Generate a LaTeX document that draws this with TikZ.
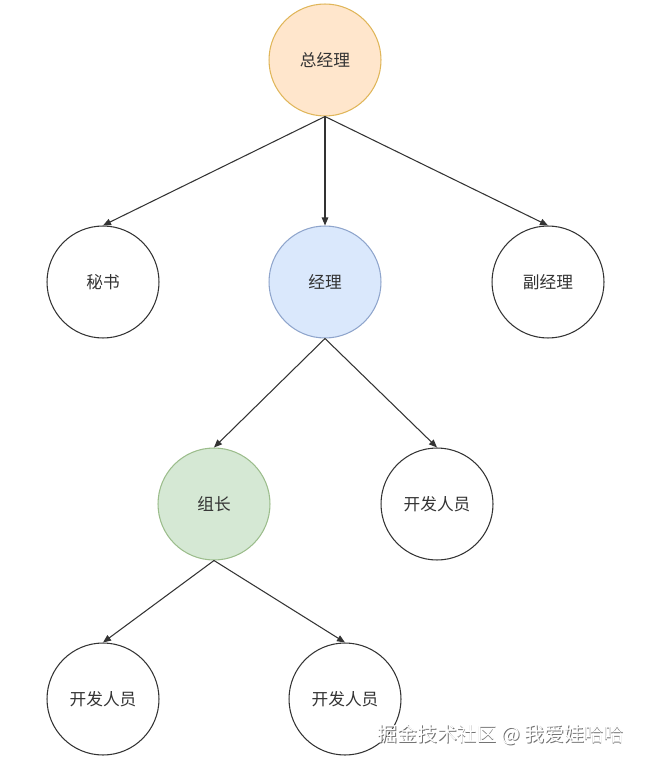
\documentclass[tikz,border=0pt]{standalone}
\usepackage{fontspec}
\setmainfont{Noto Sans CJK SC}
\usetikzlibrary{arrows.meta}

\definecolor{orgfill}{HTML}{FFE6CC}
\definecolor{orgline}{HTML}{E0B65A}
\definecolor{bluefill}{HTML}{DAE8FC}
\definecolor{blueline}{HTML}{8FA5CC}
\definecolor{grnfill}{HTML}{D5E8D4}
\definecolor{grnline}{HTML}{9CBD8C}

\begin{document}
\begin{tikzpicture}[x=0.02cm, y=-0.02cm, line cap=round, line join=round,
    person/.style={circle, draw=black!80, line width=0.6pt, minimum size=2.24cm,
        inner sep=0pt, font=\fontsize{9.5}{11}\selectfont, text=black!80},
    link/.style={-{Triangle[length=1.6mm, width=1.3mm]}, draw=black!80, line width=0.6pt}]
    \useasboundingbox (0,0) rectangle (646,766);

    \node[person, fill=orgfill, draw=orgline]   (gm)   at (325,60)  {总经理};
    \node[person]                               (sec)  at (103,282) {秘书};
    \node[person, fill=bluefill, draw=blueline] (mgr)  at (325,282) {经理};
    \node[person]                               (vgm)  at (548,282) {副经理};
    \node[person, fill=grnfill, draw=grnline]   (lead) at (214,504) {组长};
    \node[person]                               (devA) at (437,504) {开发人员};
    \node[person]                               (devB) at (103,699) {开发人员};
    \node[person]                               (devC) at (345,699) {开发人员};

    \draw[link] (gm.south) -- (sec.north);
    \draw[link] (gm.south) -- (mgr.north);
    \draw[link] (gm.south) -- (vgm.north);

    \draw[link] (mgr.south) -- (lead.north);
    \draw[link] (mgr.south) -- (devA.north);

    \draw[link] (lead.south) -- (devB.north);
    \draw[link] (lead.south) -- (devC.north);

    % watermark
    \node[font=\fontsize{11.3}{12}\selectfont, text=black!55] (mark) at (501.6,735.6) {掘金技术社区 @ 我爱娃哈哈};
    \node[font=\fontsize{11.3}{12}\selectfont, text=white] at (501,735) {掘金技术社区 @ 我爱娃哈哈};
\end{tikzpicture}
\end{document}
